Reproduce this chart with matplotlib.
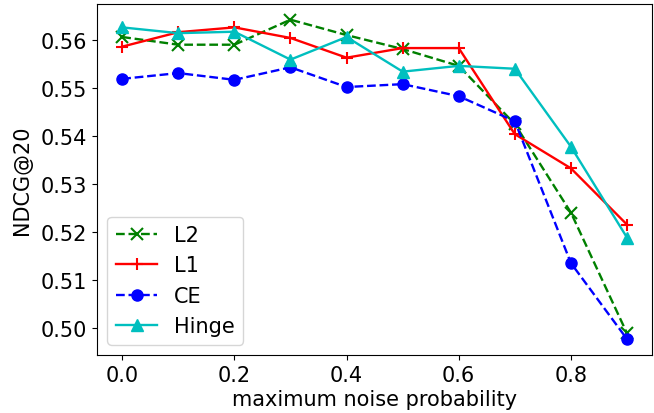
import matplotlib
matplotlib.use("Agg")
import matplotlib.pyplot as plt

x = [0.0, 0.1, 0.2, 0.3, 0.4, 0.5, 0.6, 0.7, 0.8, 0.9]
l2 = [0.5606, 0.5590, 0.5590, 0.5642, 0.5610, 0.5581, 0.5546, 0.5425, 0.5241, 0.4990]
l1 = [0.5586, 0.5616, 0.5626, 0.5604, 0.5563, 0.5583, 0.5583, 0.5404, 0.5333, 0.5216]
ce = [0.5519, 0.5531, 0.5517, 0.5543, 0.5502, 0.5508, 0.5483, 0.5431, 0.5136, 0.4978]
hinge = [0.5626, 0.5614, 0.5617, 0.5559, 0.5606, 0.5534, 0.5546, 0.5540, 0.5378, 0.5189]

fig = plt.figure(figsize=(6.54, 4.14), dpi=100)
ax = fig.add_axes([0.1483, 0.140, 0.849, 0.8486])
lw, ms = 1.7, 8
ax.plot(x, l2, 'gx--', label='L2', linewidth=lw, markersize=ms, markeredgewidth=1.5)
ax.plot(x, l1, 'r+-', label='L1', linewidth=lw, markersize=ms + 1, markeredgewidth=1.5)
ax.plot(x, ce, 'bo--', label='CE', linewidth=lw, markersize=ms)
ax.plot(x, hinge, 'c^-', label='Hinge', linewidth=lw, markersize=ms)
ax.set_xlabel('maximum noise probability', fontsize=15, labelpad=3)
ax.set_ylabel('NDCG@20', fontsize=15, labelpad=6)
ax.tick_params(labelsize=15)
ax.legend(loc='lower left', fontsize=15, handlelength=2.0, borderaxespad=0.5)
fig.savefig('out.png', dpi=100)
